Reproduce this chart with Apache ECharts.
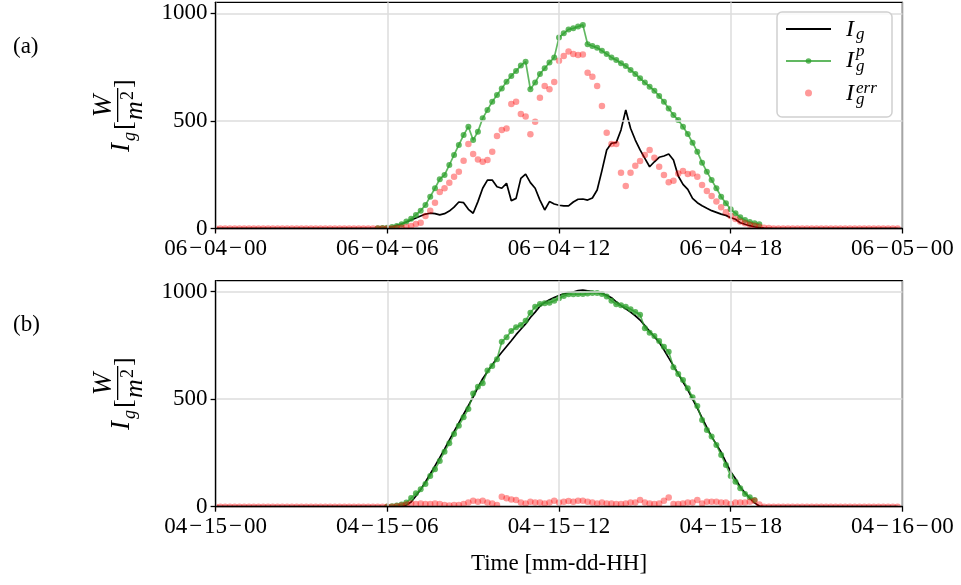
<!DOCTYPE html>
<html><head><meta charset="utf-8">
<script src="https://cdn.jsdelivr.net/npm/echarts@6/dist/echarts.min.js"></script>
<style>html,body{margin:0;padding:0;background:#fff}#c{width:961px;height:585px}</style>
</head><body><div id="c"></div>
<script>
// ---- tick labels ----
const xTicksA = ['06\u200a\u2212\u200a04\u200a\u2212\u200a00','06\u200a\u2212\u200a04\u200a\u2212\u200a06','06\u200a\u2212\u200a04\u200a\u2212\u200a12','06\u200a\u2212\u200a04\u200a\u2212\u200a18','06\u200a\u2212\u200a05\u200a\u2212\u200a00'];
const xTicksB = ['04\u200a\u2212\u200a15\u200a\u2212\u200a00','04\u200a\u2212\u200a15\u200a\u2212\u200a06','04\u200a\u2212\u200a15\u200a\u2212\u200a12','04\u200a\u2212\u200a15\u200a\u2212\u200a18','04\u200a\u2212\u200a16\u200a\u2212\u200a00'];
const yTicks = [0, 500, 1000];
const seriesNames = ['I_g', 'I_g^p', 'I_g^err'];
// sampling: one value every 10 minutes, 00:00 .. 23:50 (144 samples, 12 per row = 2 h)
// ---- panel (a) ----
const aIg = [
0,0,0,0,0,0,0,0,0,0,0,0,
0,0,0,0,0,0,0,0,0,0,0,0,
0,0,0,0,0,0,0,0,0,0,0,2,
5,8,15,21,30,40,49,58,67,71,69,63,
69,81,99,123,120,89,71,125,187,225,225,194,
187,210,129,140,233,253,213,187,132,86,125,114,
108,105,105,123,136,137,132,142,179,269,365,396,
399,458,551,466,411,365,326,287,310,331,337,346,
318,244,205,182,140,120,106,94,83,75,67,61,
50,43,27,20,13,8,4,2,1,0,0,0,
0,0,0,0,0,0,0,0,0,0,0,0,
0,0,0,0,0,0,0,0,0,0,0,0];
const aIgp = [
null,null,null,null,null,null,null,null,null,null,null,null,
null,null,null,null,null,null,null,null,null,null,null,null,
null,null,null,null,null,null,null,null,null,null,1,2,
4,7,12,20,32,45,63,83,109,148,187,229,
249,295,342,388,434,473,411,450,512,551,589,620,
651,682,709,732,757,775,647,678,718,744,771,795,
888,907,925,930,938,946,856,848,840,826,811,795,
783,768,755,737,718,698,678,659,640,616,589,558,
527,504,473,439,399,357,306,264,225,187,148,117,
89,71,52,39,30,24,20,null,null,null,null,null,
null,null,null,null,null,null,null,null,null,null,null,null,
null,null,null,null,null,null,null,null,null,null,null,null];
const aErr = [
0,0,0,0,0,0,0,0,0,0,0,0,
0,0,0,0,0,0,0,0,0,0,0,0,
0,0,0,0,0,0,0,0,0,0,0,0,
0,0,2,4,7,12,21,27,58,83,120,170,
187,213,241,264,315,393,346,321,310,318,357,430,
458,465,579,589,532,520,438,496,608,662,647,681,
780,802,822,811,806,809,724,705,662,569,445,393,
393,259,197,259,292,314,342,365,329,287,249,215,
222,256,267,253,256,241,202,174,151,125,99,75,
58,44,32,24,18,13,8,4,2,0,0,0,
0,0,0,0,0,0,0,0,0,0,0,0,
0,0,0,0,0,0,0,0,0,0,0,0];
// ---- panel (b) ----
const bIg = [
0,0,0,0,0,0,0,0,0,0,0,0,
0,0,0,0,0,0,0,0,0,0,0,0,
0,0,0,0,0,0,0,0,0,0,0,0,
0,0,0,2,8,22,50,80,115,152,190,228,
268,310,350,390,430,470,510,555,595,628,660,690,
718,745,772,800,825,850,880,905,932,950,962,973,
982,990,995,998,1005,1007,1004,1000,996,992,983,972,
953,935,920,905,888,868,842,816,790,765,730,692,
655,618,580,543,500,458,413,369,326,290,253,207,
163,130,92,65,39,18,3,0,0,0,0,0,
0,0,0,0,0,0,0,0,0,0,0,0,
0,0,0,0,0,0,0,0,0,0,0,0];
const bIgp = [
null,null,null,null,null,null,null,null,null,null,null,null,
null,null,null,null,null,null,null,null,null,null,null,null,
null,null,null,null,null,null,null,null,null,null,null,null,
1,2,5,10,19,40,62,81,106,143,174,213,
256,295,338,377,416,454,527,558,574,633,654,686,
767,788,817,834,845,865,902,930,943,946,949,958,
969,980,988,988,989,989,991,994,994,989,977,958,
941,937,930,918,906,893,830,809,794,771,744,721,
648,617,589,551,509,468,403,357,326,287,240,194,
143,116,86,59,44,31,null,null,null,null,null,null,
null,null,null,null,null,null,null,null,null,null,null,null,
null,null,null,null,null,null,null,null,null,null,null,null];
const bErr = [
0,0,0,0,0,0,0,0,0,0,0,0,
0,0,0,0,0,0,0,0,0,0,0,0,
0,0,0,0,0,0,0,0,0,0,0,0,
0,0,2,5,10,15,12,15,12,12,15,12,
8,6,8,8,12,20,28,23,28,20,15,8,
46,39,34,31,19,15,23,19,19,15,19,28,
19,23,26,23,28,28,23,19,15,19,15,15,
12,12,15,19,20,31,19,15,12,15,28,43,
12,12,15,19,19,31,15,23,23,23,20,20,
12,19,19,20,23,28,10,0,0,0,0,0,
0,0,0,0,0,0,0,0,0,0,0,0,
0,0,0,0,0,0,0,0,0,0,0,0];

const SAMPLES_PER_HOUR = 6;
function pairs(vals){ return vals.map((v,i)=>[i / SAMPLES_PER_HOUR, v === null ? '-' : v]); }

const FONT = '"Liberation Serif", "Times New Roman", serif';
const GL = 215.6, GW = 686.8;
const grids = [
  {left: GL, top: 2.3, width: GW, height: 226.2},
  {left: GL, top: 280.7, width: GW, height: 226.0}
];
const YMAX = 1051;

function xAxisFor(idx, ticks){
  const ax = {
    gridIndex: idx, type: 'value', min: 0, max: 24, interval: 6,
    axisLine: {show: true, onZero: false, lineStyle: {color: '#000', width: 1.3}},
    axisTick: {show: true, inside: false, length: 5, lineStyle: {color: '#000', width: 1.3}},
    axisLabel: {margin: 9, fontSize: 23, fontFamily: FONT, color: '#000',
      formatter: v => ticks[Math.round(v / 6)] || ''},
    splitLine: {show: true, lineStyle: {color: '#dddddd', width: 1.5}},
    z: 6
  };
  if (idx === 1) {
    ax.name = 'Time [mm-dd-HH]';
    ax.nameLocation = 'middle';
    ax.nameGap = 46;
    ax.nameTextStyle = {fontSize: 23, fontFamily: FONT, color: '#000', verticalAlign: 'top'};
  }
  return ax;
}
function yAxisFor(idx){
  return {
    gridIndex: idx, type: 'value', min: 0, max: YMAX, interval: 500,
    axisLine: {show: true, onZero: false, lineStyle: {color: '#000', width: 1.3}},
    axisTick: {show: true, inside: false, length: 5, lineStyle: {color: '#000', width: 1.3}, customValues: yTicks},
    axisLabel: {margin: 8, fontSize: 23, fontFamily: FONT, color: '#000', customValues: yTicks,
      formatter: v => (yTicks.indexOf(v) >= 0 ? String(v) : '')},
    splitLine: {show: true, lineStyle: {color: '#dddddd', width: 1.5}},
    z: 6
  };
}

const GREEN = 'rgba(44,160,44,0.75)';
const RED = 'rgba(255,0,0,0.5)';
function seriesFor(idx, ig, igp, err){
  return [
    {name: seriesNames[0], type: 'line', xAxisIndex: idx, yAxisIndex: idx, data: pairs(ig),
     showSymbol: false, symbol: 'none', lineStyle: {color: '#000', width: 1.7}, itemStyle: {color: '#000'}, z: 2},
    {name: seriesNames[1], type: 'line', xAxisIndex: idx, yAxisIndex: idx, data: pairs(igp),
     symbol: 'circle', symbolSize: 6, showSymbol: true,
     lineStyle: {color: GREEN, width: 1.7}, itemStyle: {color: GREEN}, z: 3},
    {name: seriesNames[2], type: 'scatter', xAxisIndex: idx, yAxisIndex: idx, data: pairs(err),
     symbol: 'circle', symbolSize: 6.5, itemStyle: {color: RED}, z: 4}
  ];
}

// y-axis label  I_g [ W / m^2 ]  rotated
function yLabel(oy){
  const it = s => 'italic ' + s + 'px ' + FONT;
  const up = s => s + 'px ' + FONT;
  const T = (txt, lx, base, fs, font, align) => ({type: 'text', x: lx, y: base - 0.3 * fs,
    style: {text: txt, font: font, fill: '#000', textAlign: align || 'left', textVerticalAlign: 'middle'}});
  return {type: 'group', x: 130, y: oy, rotation: Math.PI / 2, children: [
    T('I', 0, 0, 27, it(27)),
    T('g', 11, 6, 18, it(18)),
    T('[', 22, 2, 26, up(26)),
    T('W', 46, -18, 27, it(27), 'center'),
    {type: 'rect', shape: {x: 30, y: -13, width: 34, height: 1.3}, style: {fill: '#000'}},
    T('m', 32, 13, 26, it(26)),
    T('2', 52, 4, 18, up(18)),
    T(']', 64, 2, 26, up(26))
  ]};
}
function legendText(){
  const it = s => 'italic ' + s + 'px ' + FONT;
  const T = (txt, x, y, fs) => ({type: 'text', x: x, y: y,
    style: {text: txt, font: it(fs), fill: '#000', textAlign: 'left', textVerticalAlign: 'middle'}});
  return [
    T('I', 846, 29.5, 24), T('g', 856, 35, 17),
    T('I', 846, 61, 24), T('p', 856, 52, 17), T('g', 856, 66.5, 17),
    T('I', 846, 94, 24), T('err', 856, 88.5, 17), T('g', 856, 100, 17)
  ].map(e => Object.assign(e, {z: 100}));
}
// white masks clipping the marks that overflow the plotting frame (as matplotlib clips)
function masks(){
  const out = [];
  grids.forEach(g => {
    const bottom = g.top + g.height;
    out.push({type: 'rect', z: 5, silent: true, shape: {x: g.left + 0.7, y: bottom + 0.7, width: g.width - 1.4, height: 3.8}, style: {fill: '#fff'}});
    out.push({type: 'rect', z: 5, silent: true, shape: {x: g.left - 4.5, y: bottom - 5, width: 3.8, height: 9.6}, style: {fill: '#fff'}});
  });
  return out;
}

const chart = echarts.init(document.getElementById('c'), null, {renderer: 'canvas'});
chart.setOption({
  animation: false,
  backgroundColor: '#fff',
  grid: grids.map(g => Object.assign({show: true, borderColor: '#000', borderWidth: 1.3, backgroundColor: 'transparent'}, g)),
  xAxis: [xAxisFor(0, xTicksA), xAxisFor(1, xTicksB)],
  yAxis: [yAxisFor(0), yAxisFor(1)],
  legend: {
    data: [{name: seriesNames[0], itemStyle: {opacity: 0}}, {name: seriesNames[1]}, {name: seriesNames[2]}],
    orient: 'vertical', left: 777, top: 12,
    padding: [5, 10, 12, 8], itemWidth: 45, itemHeight: 7, itemGap: 8,
    backgroundColor: 'rgba(255,255,255,0.8)', borderColor: '#d0d0d0', borderWidth: 1.5, borderRadius: 5,
    formatter: () => '{s|\u00a0}',
    textStyle: {fontSize: 20, rich: {s: {width: 46, height: 24, lineHeight: 24, fontSize: 20}}},
    selectedMode: false, z: 50
  },
  series: [].concat(seriesFor(0, aIg, aIgp, aErr), seriesFor(1, bIg, bIgp, bErr)),
  graphic: [
    {type: 'text', x: 13, y: 47, style: {text: '(a)', font: '23px ' + FONT, fill: '#000', textVerticalAlign: 'middle'}},
    {type: 'text', x: 13, y: 325, style: {text: '(b)', font: '23px ' + FONT, fill: '#000', textVerticalAlign: 'middle'}},
    yLabel(152), yLabel(430)
  ].concat(legendText(), masks())
});
</script></body></html>
